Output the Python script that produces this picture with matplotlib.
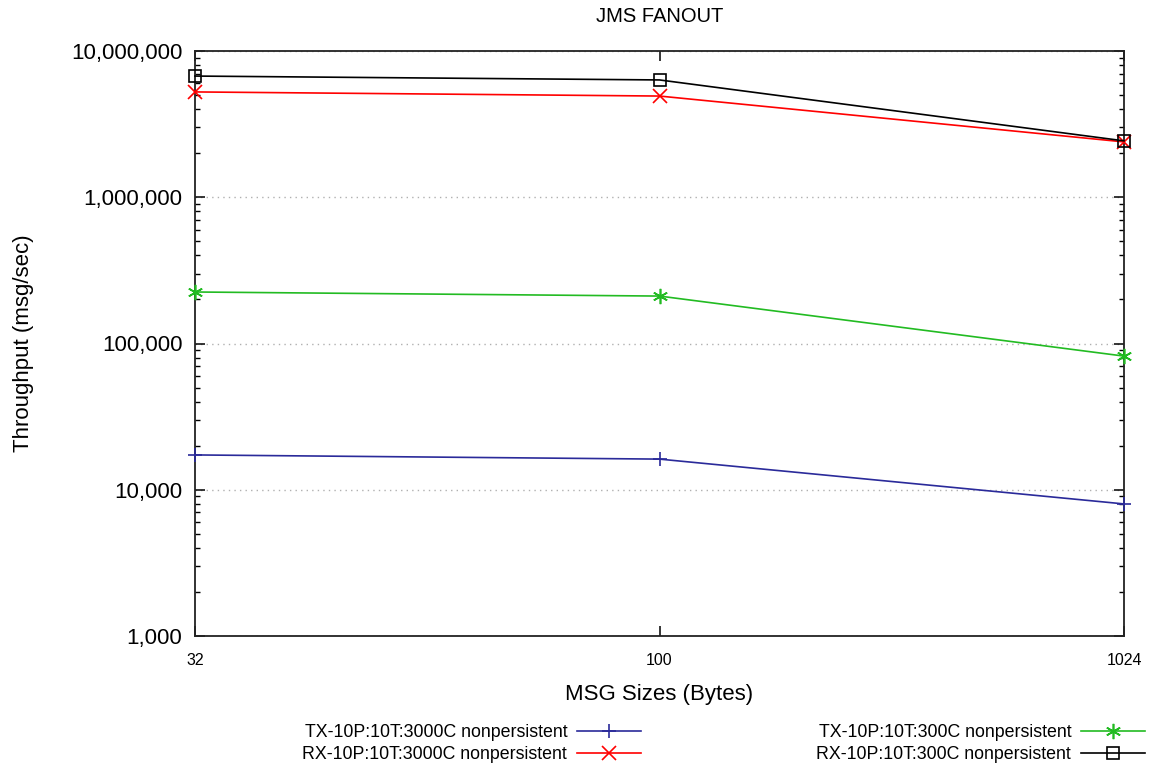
import matplotlib
matplotlib.use("Agg")
import matplotlib.pyplot as plt
from matplotlib.ticker import FixedLocator, LogLocator, FuncFormatter, NullFormatter

plt.rcParams['font.family'] = ['Liberation Sans', 'DejaVu Sans']

sizes = ["32", "100", "1024"]
tx_3000c = [17300, 16200, 8000]
rx_3000c = [5250000, 4920000, 2390000]
tx_300c = [225000, 211000, 82000]
rx_300c = [6740000, 6340000, 2430000]

labels = ["TX-10P:10T:3000C nonpersistent", "RX-10P:10T:3000C nonpersistent",
          "TX-10P:10T:300C nonpersistent", "RX-10P:10T:300C nonpersistent"]
colors = ["#2a2a9a", "#ff0000", "#22bb22", "#000000"]
markers = ["+", "x", (6, 2, 0), "s"]

fig = plt.figure(figsize=(11.49, 7.71), dpi=100)
ax = fig.add_axes([195/1149, 1-636/771, (1124-195)/1149, (636-51)/771])

x = list(range(len(sizes)))
series = [tx_3000c, rx_3000c, tx_300c, rx_300c]
handles = []
for s, lab, c, m in zip(series, labels, colors, markers):
    kw = dict(markersize=10, markeredgewidth=1.2)
    if m == "s":
        kw.update(markerfacecolor="none", markersize=9)
    if m == (6, 2, 0):
        kw.update(markersize=11)
    h, = ax.plot(x, s, color=c, lw=1.2, marker=m, clip_on=False, label=lab, zorder=3, **kw)
    handles.append(h)

ax.set_yscale("log")
ax.set_ylim(1000, 10000000)
ax.set_xlim(0, len(sizes) - 1)
ax.set_xticks(x)
ax.set_xticklabels(sizes, fontsize=11.5)
ax.yaxis.set_major_locator(FixedLocator([1e3, 1e4, 1e5, 1e6, 1e7]))
ax.yaxis.set_major_formatter(FuncFormatter(lambda v, p: f"{int(round(v)):,}"))
ax.yaxis.set_minor_locator(LogLocator(base=10, subs=range(2, 10)))
ax.yaxis.set_minor_formatter(NullFormatter())
ax.tick_params(axis="y", which="major", labelsize=16, direction="in", length=7, width=1.1,
               right=True, pad=9)
ax.tick_params(axis="y", which="minor", direction="in", length=3.5, width=1.0, right=True)
ax.tick_params(axis="x", which="major", direction="in", length=7, width=1.1, top=True, pad=12)
ax.grid(True, axis="y", which="major", linestyle=(0, (1, 3)), color="#b0b0b0", lw=1.0)
for sp in ax.spines.values():
    sp.set_linewidth(1.3)
    sp.set_color("#222222")

ax.set_title("JMS FANOUT", fontsize=14.5, pad=21)
ax.set_xlabel("MSG Sizes (Bytes)", fontsize=16, labelpad=12)
ax.set_ylabel("Throughput (msg/sec)", fontsize=16, labelpad=27)

common = dict(loc="center right", frameon=False, markerfirst=False, fontsize=12.8, handlelength=3.6,
              labelspacing=0.3, handletextpad=0.55, borderaxespad=0, borderpad=0)
leg1 = fig.legend(handles[:2], labels[:2], bbox_to_anchor=(641/1149, 1-743.5/771), **common)
leg2 = fig.legend(handles[2:], labels[2:], bbox_to_anchor=(1145/1149, 1-743.5/771), **common)
for leg in (leg1, leg2):
    for t in leg.get_texts():
        t.set_ha("right")

fig.savefig("out.png", dpi=100)
